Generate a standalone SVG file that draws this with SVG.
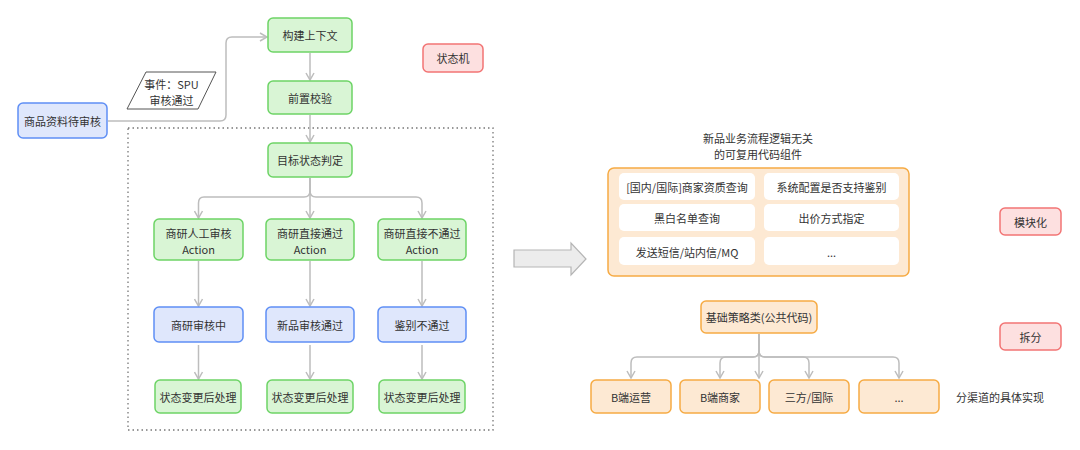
<svg xmlns="http://www.w3.org/2000/svg" width="1080" height="450" viewBox="0 0 1080 450">
<defs>
<style>
text{font-family:"Noto Sans CJK SC","Liberation Sans",sans-serif;font-size:11px;fill:#333;text-anchor:middle;dominant-baseline:central}
.g{fill:#d9f5d5;stroke:#6dd466;stroke-width:1.5}
.b{fill:#dfe7fc;stroke:#5f8ff5;stroke-width:1.5}
.r{fill:#fde0e0;stroke:#f27474;stroke-width:1.5}
.o{fill:#fde9d3;stroke:#f6ab44;stroke-width:1.5}
.w{fill:#ffffff;stroke:none}
.c{fill:none;stroke:#bdbdbd;stroke-width:1.5}
.ca{fill:none;stroke:#bdbdbd;stroke-width:1.5;marker-end:url(#ah)}
</style>
<marker id="ah" viewBox="0 0 10 10" refX="9" refY="5" markerWidth="10" markerHeight="10" markerUnits="userSpaceOnUse" orient="auto">
<path d="M2,1 L9,5 L2,9" fill="none" stroke="#bdbdbd" stroke-width="1.5"/>
</marker>
</defs>
<rect width="1080" height="450" fill="#ffffff"/>

<rect id="container" x="128" y="128" width="365" height="302" fill="none" stroke="#777" stroke-width="1.3" stroke-dasharray="1.5,3"/>

<g id="connectors">
<path class="ca" d="M108,121 H220 Q226,121 226,115 V43 Q226,37 232,37 H267"/>
<path class="ca" d="M310,53 V80"/>
<path class="ca" d="M310,115 V142"/>
<path class="ca" d="M310,178 V218"/>
<path class="ca" d="M310,178 V191 Q310,197 304,197 H204 Q198.5,197 198.5,203 V218"/>
<path class="ca" d="M310,178 V191 Q310,197 316,197 H416 Q422,197 422,203 V218"/>
<path class="ca" d="M198.5,261 V306"/>
<path class="ca" d="M310,261 V306"/>
<path class="ca" d="M422,261 V306"/>
<path class="ca" d="M198.5,345 V379"/>
<path class="ca" d="M310,345 V379"/>
<path class="ca" d="M422,345 V379"/>
<path class="ca" d="M759,334 V378"/>
<path class="ca" d="M759,334 V351 Q759,357 753,357 H637 Q631,357 631,363 V378"/>
<path class="ca" d="M759,334 V351 Q759,357 753,357 H726 Q720,357 720,363 V378"/>
<path class="ca" d="M759,334 V351 Q759,357 765,357 H803 Q809,357 809,363 V378"/>
<path class="ca" d="M759,334 V351 Q759,357 765,357 H893 Q899,357 899,363 V378"/>
<path d="M514,250 H571 V243 L586,259 L571,275 V267 H514 Z" fill="#ececec" stroke="#b5b5b5" stroke-width="1.2"/>
</g>

<g id="n-pending"><rect class="b" x="18" y="103" width="89" height="35" rx="5"/><text x="62.5" y="121">商品资料待审核</text></g>
<g id="n-event"><polygon points="146,72 216,72 198,109 127,109" fill="#fff" stroke="#555" stroke-width="1"/><text x="171.5" y="84">事件：SPU</text><text x="171.5" y="99.5">审核通过</text></g>
<g id="n-ctx"><rect class="g" x="268" y="18" width="84" height="34" rx="5"/><text x="310" y="35">构建上下文</text></g>
<g id="n-pre"><rect class="g" x="268" y="81" width="84" height="33" rx="5"/><text x="310" y="97.5">前置校验</text></g>
<g id="n-fsm"><rect class="r" x="423" y="44" width="60" height="28" rx="5"/><text x="453" y="58">状态机</text></g>
<g id="n-target"><rect class="g" x="268" y="143" width="84" height="34" rx="5"/><text x="310" y="160">目标状态判定</text></g>

<g id="n-a1"><rect class="g" x="154" y="219" width="89" height="41" rx="5"/><text x="198.5" y="233">商研人工审核</text><text x="198.5" y="248.5">Action</text></g>
<g id="n-a2"><rect class="g" x="266" y="219" width="88" height="41" rx="5"/><text x="310" y="233">商研直接通过</text><text x="310" y="248.5">Action</text></g>
<g id="n-a3"><rect class="g" x="378" y="219" width="88" height="41" rx="5"/><text x="422" y="233">商研直接不通过</text><text x="422" y="248.5">Action</text></g>

<g id="n-s1"><rect class="b" x="154" y="307" width="89" height="35" rx="5"/><text x="198.5" y="325">商研审核中</text></g>
<g id="n-s2"><rect class="b" x="266" y="307" width="88" height="35" rx="5"/><text x="310" y="325">新品审核通过</text></g>
<g id="n-s3"><rect class="b" x="378" y="307" width="88" height="35" rx="5"/><text x="422" y="325">鉴别不通过</text></g>

<g id="n-p1"><rect class="g" x="155" y="380" width="86" height="33" rx="5"/><text x="198" y="397">状态变更后处理</text></g>
<g id="n-p2"><rect class="g" x="267" y="380" width="86" height="33" rx="5"/><text x="310" y="397">状态变更后处理</text></g>
<g id="n-p3"><rect class="g" x="379" y="380" width="86" height="33" rx="5"/><text x="422" y="397">状态变更后处理</text></g>

<g id="n-title"><text x="758" y="138">新品业务流程逻辑无关</text><text x="758" y="153.5">的可复用代码组件</text></g>
<g id="n-modules">
<rect class="o" x="608" y="168" width="301" height="108" rx="6"/>
<rect class="w" x="619" y="173" width="136" height="27" rx="5"/><text x="687" y="187">[国内/国际]商家资质查询</text>
<rect class="w" x="764" y="173" width="135" height="27" rx="5"/><text x="831.5" y="187">系统配置是否支持鉴别</text>
<rect class="w" x="619" y="204" width="136" height="27" rx="5"/><text x="687" y="218">黑白名单查询</text>
<rect class="w" x="764" y="204" width="135" height="27" rx="5"/><text x="831.5" y="218">出价方式指定</text>
<rect class="w" x="619" y="237" width="136" height="28" rx="5"/><text x="687" y="251.5">发送短信/站内信/MQ</text>
<rect class="w" x="764" y="237" width="135" height="28" rx="5"/><text x="831.5" y="251.5">...</text>
</g>
<g id="n-modular"><rect class="r" x="1000" y="208" width="61" height="27" rx="5"/><text x="1030.5" y="221.5">模块化</text></g>
<g id="n-base"><rect class="o" x="701" y="301" width="116" height="32" rx="5"/><text x="759" y="317">基础策略类(公共代码)</text></g>
<g id="n-split"><rect class="r" x="1000" y="323" width="61" height="27" rx="5"/><text x="1030.5" y="336.5">拆分</text></g>
<g id="n-c1"><rect class="o" x="591" y="380" width="80" height="33" rx="5"/><text x="631" y="397">B端运营</text></g>
<g id="n-c2"><rect class="o" x="680" y="380" width="80" height="33" rx="5"/><text x="720" y="397">B端商家</text></g>
<g id="n-c3"><rect class="o" x="769" y="380" width="80" height="33" rx="5"/><text x="809" y="397">三方/国际</text></g>
<g id="n-c4"><rect class="o" x="859" y="380" width="80" height="33" rx="5"/><text x="899" y="397">...</text></g>
<g id="n-impl"><text x="956" y="397" style="text-anchor:start">分渠道的具体实现</text></g>
</svg>
